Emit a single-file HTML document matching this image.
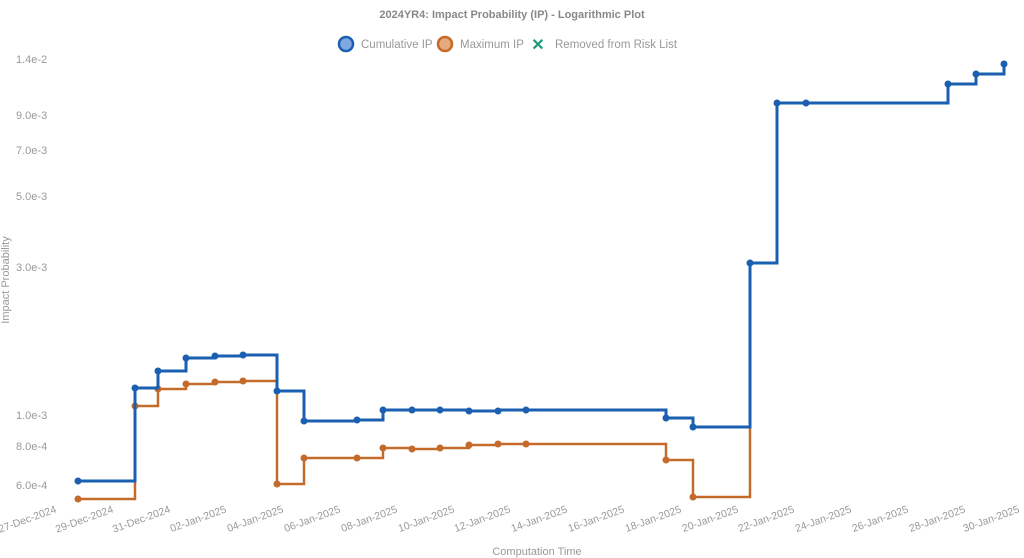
<!DOCTYPE html>
<html><head><meta charset="utf-8"><style>
html,body{margin:0;padding:0;background:#fff;}
svg{display:block;font-family:"Liberation Sans",Arial,sans-serif;}
</style></head><body>
<svg width="1024" height="558" viewBox="0 0 1024 558">
<text x="512" y="18" text-anchor="middle" font-size="11" font-weight="bold" fill="#888">2024YR4: Impact Probability (IP) - Logarithmic Plot</text>
<circle cx="346" cy="44" r="7" fill="#7fa9e0" stroke="#1a5fb0" stroke-width="2.5"/>
<text x="361" y="48" font-size="11.5" fill="#999">Cumulative IP</text>
<circle cx="445" cy="44" r="7" fill="#e8a97c" stroke="#c46a2a" stroke-width="2.5"/>
<text x="460" y="48" font-size="11.5" fill="#999">Maximum IP</text>
<text x="538" y="50" font-size="16" font-weight="bold" fill="#1a9c7a" text-anchor="middle">✕</text>
<text x="555" y="48" font-size="11.5" fill="#999">Removed from Risk List</text>
<g font-size="11" fill="#999">
<text x="16" y="63">1.4e-2</text>
<text x="16" y="119">9.0e-3</text>
<text x="16" y="154">7.0e-3</text>
<text x="16" y="200">5.0e-3</text>
<text x="16" y="271">3.0e-3</text>
<text x="16" y="419">1.0e-3</text>
<text x="16" y="450">8.0e-4</text>
<text x="16" y="489">6.0e-4</text>
</g>
<text transform="translate(9,280) rotate(-90)" text-anchor="middle" font-size="11" fill="#999">Impact Probability</text>
<text x="537" y="555" text-anchor="middle" font-size="11" fill="#999">Computation Time</text>
<g font-size="10.5" fill="#999" text-anchor="end">
<text transform="translate(57,512) rotate(-20)">27-Dec-2024</text>
<text transform="translate(114,512) rotate(-20)">29-Dec-2024</text>
<text transform="translate(171,512) rotate(-20)">31-Dec-2024</text>
<text transform="translate(227,512) rotate(-20)">02-Jan-2025</text>
<text transform="translate(284,512) rotate(-20)">04-Jan-2025</text>
<text transform="translate(341,512) rotate(-20)">06-Jan-2025</text>
<text transform="translate(398,512) rotate(-20)">08-Jan-2025</text>
<text transform="translate(455,512) rotate(-20)">10-Jan-2025</text>
<text transform="translate(511,512) rotate(-20)">12-Jan-2025</text>
<text transform="translate(568,512) rotate(-20)">14-Jan-2025</text>
<text transform="translate(625,512) rotate(-20)">16-Jan-2025</text>
<text transform="translate(682,512) rotate(-20)">18-Jan-2025</text>
<text transform="translate(739,512) rotate(-20)">20-Jan-2025</text>
<text transform="translate(795,512) rotate(-20)">22-Jan-2025</text>
<text transform="translate(852,512) rotate(-20)">24-Jan-2025</text>
<text transform="translate(909,512) rotate(-20)">26-Jan-2025</text>
<text transform="translate(966,512) rotate(-20)">28-Jan-2025</text>
<text transform="translate(1020,512) rotate(-20)">30-Jan-2025</text>
</g>
<path d="M78,499 H135 V406 H158 V389 H186 V384 H215 V382 H243 V381 H277 V484 H304 V458 H383 V448 H412 V449 H440 V448 H469 V445 H498 V444 H666 V460 H693 V497 H750 V427" fill="none" stroke="#c46a2a" stroke-width="2.5"/>
<g fill="#c46a2a">
<circle cx="78" cy="499" r="3.5"/><circle cx="135" cy="406" r="3.5"/><circle cx="158" cy="389" r="3.5"/><circle cx="186" cy="384" r="3.5"/><circle cx="215" cy="382" r="3.5"/><circle cx="243" cy="381" r="3.5"/><circle cx="277" cy="484" r="3.5"/><circle cx="304" cy="458" r="3.5"/><circle cx="357" cy="458" r="3.5"/><circle cx="383" cy="448" r="3.5"/><circle cx="412" cy="449" r="3.5"/><circle cx="440" cy="448" r="3.5"/><circle cx="469" cy="445" r="3.5"/><circle cx="498" cy="444" r="3.5"/><circle cx="526" cy="444" r="3.5"/><circle cx="666" cy="460" r="3.5"/><circle cx="693" cy="497" r="3.5"/>
</g>
<path d="M78,481 H135 V388 H158 V371 H186 V358 H215 V356 H243 V355 H277 V391 H304 V421 H357 V420 H383 V410 H469 V411 H498 V410 H666 V418 H693 V427 H750 V263 H777 V103 H948 V84 H976 V74 H1004 V64" fill="none" stroke="#1a5fb0" stroke-width="3"/>
<g fill="#1a5fb0">
<circle cx="78" cy="481" r="3.5"/><circle cx="135" cy="388" r="3.5"/><circle cx="158" cy="371" r="3.5"/><circle cx="186" cy="358" r="3.5"/><circle cx="215" cy="356" r="3.5"/><circle cx="243" cy="355" r="3.5"/><circle cx="277" cy="391" r="3.5"/><circle cx="304" cy="421" r="3.5"/><circle cx="357" cy="420" r="3.5"/><circle cx="383" cy="410" r="3.5"/><circle cx="412" cy="410" r="3.5"/><circle cx="440" cy="410" r="3.5"/><circle cx="469" cy="411" r="3.5"/><circle cx="498" cy="411" r="3.5"/><circle cx="526" cy="410" r="3.5"/><circle cx="666" cy="418" r="3.5"/><circle cx="693" cy="427" r="3.5"/><circle cx="750" cy="263" r="3.5"/><circle cx="777" cy="103" r="3.5"/><circle cx="806" cy="103" r="3.5"/><circle cx="948" cy="84" r="3.5"/><circle cx="976" cy="74" r="3.5"/><circle cx="1004" cy="64" r="3.5"/>
</g>
</svg>
</body></html>
